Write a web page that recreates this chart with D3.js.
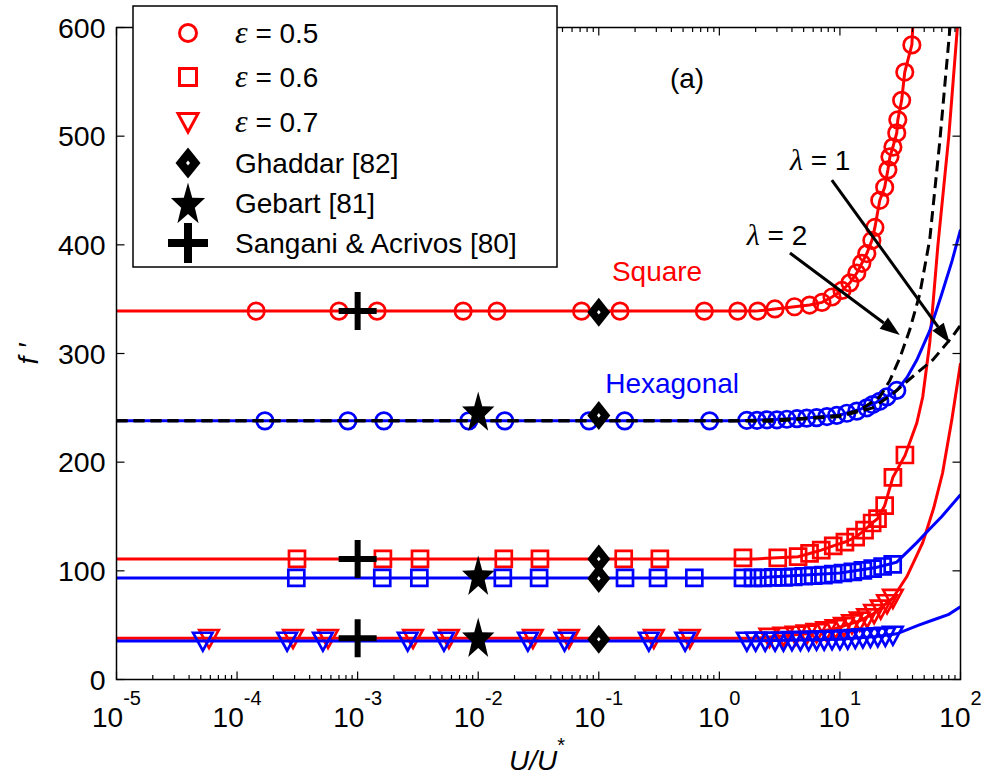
<!DOCTYPE html>
<html><head><meta charset="utf-8">
<script src="https://cdn.jsdelivr.net/npm/d3@7"></script>
<style>body{margin:0;background:#fff;} text{font-family:"Liberation Sans",Arial,sans-serif;}</style>
</head><body><svg id="c" width="990" height="781"></svg>
<script>
// ---------------- DATA ----------------
const xDomain = [1e-5, 1e2];
const yDomain = [0, 600];
const yTicks = [0, 100, 200, 300, 400, 500, 600];
const xTickExps = [-5, -4, -3, -2, -1, 0, 1, 2];

// eps = 0.5, square array (red circles)
const sq05X = [1.44e-4,7.0e-4,1.45e-3,7.5e-3,1.43e-2,7.2e-2,0.15,0.75,1.42,2.08,2.89,4.2,5.6,7.1,8.6,10.4,12.1,13.8,15.2,16.7,18.4,19.5,21.4,23.5,25,26,27.5,29.6,30.2,32.5,34.5,39.5];
const sq05Y = [339,339,339,339,339,339,339,339,339,339,341,343,344.6,347,352,358,365,374,383,392,404,416,441,453,469,481,490,503,515,533,559,584];
const sq05LineX = [1e-5,2,4.2,5.6,7.1,8.6,10.4,12.1,13.8,15.2,16.7,18.4,19.5,21.4,23.5,25,26,27.5,29.6,30.2,32.5,34.5,39.5,41];
const sq05LineY = [339,339,343,344.6,347,352,358,365,374,383,392,404,416,441,453,469,481,490,503,515,533,559,584,620];

// eps = 0.5, hexagonal array (blue circles)
const hx05X = [1.7e-4,8.3e-4,1.65e-3,8.35e-3,1.66e-2,8.3e-2,0.164,0.83,1.69,2.05,2.48,3.0,3.63,4.4,5.3,6.4,7.8,9.4,11.4,13.8,16.7,18.7,21.4,24.5,29.6];
const hx05Y = [238,238,238,238,238,238,238,238,238.5,238.5,239,239,239.5,240,240.5,241,242,243,245,247,250,253,256,260,266];
const hx05LineX = [1e-5,1.5,5,10,15,20,25,29.6,36,43.4,55.6,70,85,100];
const hx05LineY = [238,238,240.5,243.5,249,255,261,266,278,294,321,355,385,414];

// eps = 0.6 (squares)
const sq06X = [3.14e-4,1.62e-3,3.29e-3,1.63e-2,3.25e-2,0.161,0.321,1.57,3.05,4.5,5.6,7.0,8.8,11,13.5,16,18.5,20.5,23.5,27.5,34.6];
const sq06Y = [111,111,111,111,111,111,111,112,112,113,116,119,123,126.5,131,137.5,144,148,160,186,206.6];
const sq06LineX = [1e-5,2,4.5,5.6,7,8.8,11,13.5,16,18.5,20.5,23.5,27.5,34.6,43.4,48.6,55.6,65,80,95];
const sq06LineY = [111,111,113,116,119,123,126.5,131,137.5,144,148,160,186,206,236,260,310,400,500,605];

const hx06X = [3.1e-4,1.6e-3,3.25e-3,1.6e-2,3.2e-2,0.165,0.31,0.62,1.57,1.9,2.3,2.8,3.4,4.1,5,6,7.3,8.8,10.6,12.8,15.5,18.7,22.6,27.4];
const hx06Y = [93.5,93.5,93.5,93.5,93.5,93.5,93.5,93.5,93.5,93.5,93.5,94,94,94.5,95,95.5,96,97,98,99,100.5,102,104,106];
const hx06LineX = [1e-5,2,10,20,29.6,43.4,55,70,100];
const hx06LineY = [93.5,93.5,98,103,108,126,138,150,170];

// eps = 0.7 (triangles)
const sq07X = [5.85e-5,2.91e-4,5.68e-4,2.88e-3,5.71e-3,2.84e-2,5.65e-2,0.286,0.569,2.6,3.4,4.3,5.3,6.4,7.7,9.2,10.8,12.6,14.6,16.8,19.2,21.8,24.6,27.5];
const sq07Y = [38,38,38,38,38,38,38,38,38,39,40,41,42,43.5,45,47,49,51.5,54,57,61,65,70,75];
const sq07LineX = [1e-5,2,5.3,9.2,14.6,19.2,27.5,36,48.6,60,71,85,100];
const sq07LineY = [38,38,42,47,54,61,75,95,126,158,190,240,291];

const hx07X = [5.2e-5,2.6e-4,5.15e-4,2.6e-3,5.2e-3,2.58e-2,5.2e-2,0.26,0.52,1.69,2.0,2.4,2.9,3.4,4.0,4.7,5.5,6.4,7.4,8.6,10,11.6,13.4,15.5,17.9,20.6,23.8,27.5];
const hx07Y = [35.5,35.5,35.5,35.5,35.5,35.5,35.5,35.5,35.5,35.5,35.5,35.5,35.5,35.5,36,36,36,36.5,36.5,37,37,37.5,38,38.5,39,39.5,40,41];
const hx07LineX = [1e-5,2,10,20,29.6,45,60,80,100];
const hx07LineY = [35.5,35.5,37,39.5,42,50,55,60,67];

// model curves (black dashed)
const lam1X = [1e-5,1,2.78,5.32,10,18.7,27.5,43.4,58.9,86.3,100];
const lam1Y = [238,238,237.6,240,242,250,263,282,294,316,326];
const lam2X = [1e-5,1,2.17,4.6,10,14.6,21.4,25.9,31.4,38.0,46,55.6,67.3,81.5,84];
const lam2Y = [238,238,238.5,240,243,248,260,275,296,322,355,405,495,598,615];

// reference points
const ghaddarX = [0.1,0.1,0.1,0.1,0.1];
const ghaddarY = [338,243,111,93,37];
const gebartX = [0.01,0.01,0.01];
const gebartY = [245,94,37];
const sanganiX = [1e-3,1e-3,1e-3];
const sanganiY = [339,111,38];

// legend
const legendLabels = ["= 0.5","= 0.6","= 0.7","Ghaddar [82]","Gebart [81]","Sangani & Acrivos [80]"];
const legendSymbols = ["circle","square","triangle","diamond","star","plus"];

// annotations (data coordinates)
const annTexts = ["(a)","Square","Hexagonal"];
const annX = [0.389,0.1285,0.113];
const annY = [544,366.5,263.5];
const annColors = ["#000","#ff0000","#0000ff"];
const arrowFromX = [3.85, 8.57], arrowFromY = [392.5, 459.6];
const arrowToX = [31.4, 81.5], arrowToY = [317, 309.7];
const lamLabels = ["2","1"];
const lamX = [1.69, 3.85], lamY = [400, 468.9];

// ---------------- DRAW ----------------
const L = 116.5, R = 960.5, T = 27.5, B = 679.5;
const svg = d3.select("#c");
const x = d3.scaleLog().domain(xDomain).range([L, R]);
const y = d3.scaleLinear().domain(yDomain).range([B, T]);
const RED = "#ff0000", BLUE = "#0000ff";

svg.append("rect").attr("width",990).attr("height",781).attr("fill","#fff");
svg.append("clipPath").attr("id","clip").append("rect")
  .attr("x",L).attr("y",T).attr("width",R-L).attr("height",B-T);
const plot = svg.append("g").attr("clip-path","url(#clip)");

const line = d3.line().x(d=>x(d[0])).y(d=>y(d[1]));
function drawLine(xs, ys, color, dash, w){
  plot.append("path").datum(xs.map((v,i)=>[v,ys[i]]))
    .attr("d", line).attr("fill","none").attr("stroke",color)
    .attr("stroke-width", w||3).attr("stroke-dasharray", dash||null);
}
function symPath(type, s){
  if(type==="circle") return d3.symbol(d3.symbolCircle, s*s*Math.PI/4)();
  if(type==="square"){ const h=s/2; return `M${-h},${-h}H${h}V${h}H${-h}Z`; }
  if(type==="triangle"){ const w=s/2, h=s*0.42; return `M${-w},${-h}L${w},${-h}L0,${h*1.2}Z`; }
  return "";
}
function drawMarkers(g, xs, ys, type, color, size){
  g.selectAll(null).data(xs.map((v,i)=>[v,ys[i]])).enter().append("path")
    .attr("transform", d=>`translate(${x(d[0])},${y(d[1])})`)
    .attr("d", symPath(type,size)).attr("fill","none").attr("stroke",color).attr("stroke-width",2.7);
}

// red series
drawLine(sq05LineX, sq05LineY, RED);
drawLine(sq06LineX, sq06LineY, RED);
drawLine(sq07LineX, sq07LineY, RED);
drawMarkers(plot, sq05X, sq05Y, "circle", RED, 16.5);
drawMarkers(plot, sq06X, sq06Y, "square", RED, 16);
drawMarkers(plot, sq07X, sq07Y, "triangle", RED, 19.5);
// blue series
drawLine(hx05LineX, hx05LineY, BLUE);
drawLine(hx06LineX, hx06LineY, BLUE);
drawLine(hx07LineX, hx07LineY, BLUE);
drawMarkers(plot, hx05X, hx05Y, "circle", BLUE, 16.5);
drawMarkers(plot, hx06X, hx06Y, "square", BLUE, 16);
drawMarkers(plot, hx07X, hx07Y, "triangle", BLUE, 19.5);
// dashed models
drawLine(lam1X, lam1Y, "#000", "11,6", 3);
drawLine(lam2X, lam2Y, "#000", "11,6", 3);

// black reference markers
function diamondPath(w,h){ return `M0,${-h/2}L${w/2},0L0,${h/2}L${-w/2},0Z`; }
function starPath(ro, ri, sy){
  let p=""; for(let i=0;i<10;i++){ const r=i%2?ri:ro; const a=-Math.PI/2+i*Math.PI/5;
    p += (i?"L":"M")+(r*Math.cos(a)).toFixed(2)+","+(sy*r*Math.sin(a)).toFixed(2);} return p+"Z";
}
function plusPath(s, t){ const h=s/2, k=t/2;
  return `M${-k},${-h}H${k}V${-k}H${h}V${k}H${k}V${h}H${-k}V${k}H${-h}V${-k}H${-k}Z`; }
function drawDiamond(g, w, h){
  g.append("path").attr("d", diamondPath(w,h)).attr("fill","#000");
  g.append("path").attr("d", diamondPath(w*0.16,h*0.16)).attr("fill","#fff");
}
const blk = svg.append("g");
ghaddarX.forEach((v,i)=>{
  drawDiamond(blk.append("g").attr("transform",`translate(${x(v)},${y(ghaddarY[i])})`), 23, 29);
});
blk.selectAll(null).data(gebartX.map((v,i)=>[v,gebartY[i]])).enter().append("path")
  .attr("transform", d=>`translate(${x(d[0])},${y(d[1])})`)
  .attr("d", starPath(17,6.8,1.28)).attr("fill","#000");
blk.selectAll(null).data(sanganiX.map((v,i)=>[v,sanganiY[i]])).enter().append("path")
  .attr("transform", d=>`translate(${x(d[0])},${y(d[1])})`)
  .attr("d", plusPath(38,6)).attr("fill","#000");

// axes frame
svg.append("rect").attr("x",L).attr("y",T).attr("width",R-L).attr("height",B-T)
  .attr("fill","none").attr("stroke","#000").attr("stroke-width",1.5);

// x ticks (log, major + minor) at bottom and top, inward
const ax = svg.append("g").attr("stroke","#000").attr("stroke-width",1.2);
for(let e=-5;e<=2;e++){
  for(let m=1;m<=9;m++){
    const v=m*Math.pow(10,e); if(v>1e2+1e-9) break;
    const len = m===1?8:4.5;
    ax.append("line").attr("x1",x(v)).attr("x2",x(v)).attr("y1",B).attr("y2",B-len);
    ax.append("line").attr("x1",x(v)).attr("x2",x(v)).attr("y1",T).attr("y2",T+len);
  }
}
yTicks.forEach(v=>{
  ax.append("line").attr("x1",L).attr("x2",L+8).attr("y1",y(v)).attr("y2",y(v));
  ax.append("line").attr("x1",R).attr("x2",R-8).attr("y1",y(v)).attr("y2",y(v));
});
// y tick labels
svg.selectAll(null).data(yTicks).enter().append("text")
  .attr("x",L-11).attr("y",d=>y(d)+10).attr("text-anchor","end")
  .attr("font-size",28.5).text(d=>d);
// x tick labels
xTickExps.forEach(e=>{
  const t = svg.append("text").attr("x",x(Math.pow(10,e))).attr("y",727)
    .attr("text-anchor","middle").attr("font-size",28);
  t.append("tspan").text("10");
  t.append("tspan").attr("dy",-22).attr("font-size",20).text(e);
});
// axis titles
const xt = svg.append("text").attr("x",537).attr("y",770).attr("text-anchor","middle")
  .attr("font-size",28).attr("font-style","italic");
xt.append("tspan").text("U/U");
xt.append("tspan").attr("dy",-18).attr("font-size",20).attr("font-style","normal").text("*");
svg.append("text").attr("transform","translate(38,354) rotate(-90)").attr("text-anchor","middle")
  .attr("font-size",28).attr("font-style","italic").text("f \u2032");

// annotations
annTexts.forEach((s,i)=>{
  svg.append("text").attr("x",x(annX[i])).attr("y",y(annY[i])).attr("font-size",28)
    .attr("fill",annColors[i]).text(s);
});
lamLabels.forEach((s,i)=>{
  const t = svg.append("text").attr("x",x(lamX[i])).attr("y",y(lamY[i])).attr("font-size",28);
  t.append("tspan").attr("font-family","Liberation Serif").attr("font-style","italic").attr("font-size",30).text("\u03bb");
  t.append("tspan").text(" = "+s);
});
arrowFromX.forEach((v,i)=>{
  const x1=x(v), y1=y(arrowFromY[i]), x2=x(arrowToX[i]), y2=y(arrowToY[i]);
  const a=Math.atan2(y2-y1,x2-x1), len=20, wd=7;
  const bx=x2-len*Math.cos(a), by=y2-len*Math.sin(a);
  svg.append("line").attr("x1",x1).attr("y1",y1).attr("x2",bx).attr("y2",by)
    .attr("stroke","#000").attr("stroke-width",3);
  svg.append("path").attr("d",`M${x2},${y2}L${bx+wd*Math.sin(a)},${by-wd*Math.cos(a)}L${bx-wd*Math.sin(a)},${by+wd*Math.cos(a)}Z`)
    .attr("fill","#000");
});

// legend
const lg = svg.append("g");
lg.append("rect").attr("x",133).attr("y",6).attr("width",424).attr("height",261)
  .attr("fill","#fff").attr("stroke","#000").attr("stroke-width",1.5);
const rowY = [33,77,122,163,203,243];
legendSymbols.forEach((s,i)=>{
  const cy=rowY[i], cx=188;
  const g = lg.append("g").attr("transform",`translate(${cx},${cy})`);
  if(s==="circle"||s==="square"||s==="triangle"){
    g.append("path").attr("d",symPath(s, s==="triangle"?20:17)).attr("fill","none").attr("stroke",RED).attr("stroke-width",3);
  } else if(s==="diamond"){
    drawDiamond(g, 25, 31);
  } else if(s==="star"){
    g.append("path").attr("d",starPath(18,7.2,1.25)).attr("fill","#000").attr("transform","translate(0,2)");
  } else {
    g.append("path").attr("d",plusPath(40,8)).attr("fill","#000");
  }
  const t = lg.append("text").attr("x",235).attr("y",cy+10).attr("font-size",28);
  if(i<3){
    t.append("tspan").attr("font-family","Liberation Serif").attr("font-style","italic").attr("font-size",32).text("\u03b5");
    t.append("tspan").text(" "+legendLabels[i]);
  } else t.text(legendLabels[i]);
});
</script></body></html>
